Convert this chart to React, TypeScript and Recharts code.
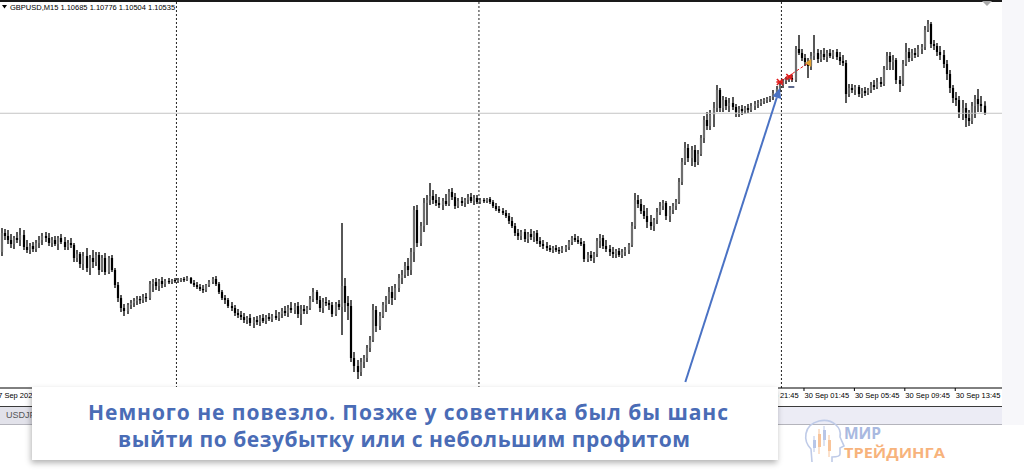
import React from "react";
import { ComposedChart, Bar, XAxis, YAxis, ReferenceLine, ReferenceDot } from "recharts";

// ---- data: [open, high, low, close] per 15-minute bar ----
const symbolTitle = "GBPUSD,M15";
const bidPrice = 1.10535;

const sep27 = [
  [1.0776,1.0824,1.0768,1.0814],[1.0814,1.0822,1.0800,1.0808],[1.0808,1.0820,1.0792,1.0800],[1.0800,1.0812,1.0784,1.0792],
  [1.0792,1.0808,1.0782,1.0804],[1.0804,1.0816,1.0794,1.0800],[1.0800,1.0824,1.0788,1.0810],[1.0810,1.0820,1.0780,1.0786],
  [1.0786,1.0800,1.0774,1.0780],[1.0780,1.0794,1.0772,1.0788],[1.0788,1.0796,1.0776,1.0782],[1.0782,1.0800,1.0776,1.0794],
  [1.0794,1.0808,1.0784,1.0800],[1.0800,1.0814,1.0790,1.0808],[1.0808,1.0816,1.0796,1.0804],[1.0804,1.0814,1.0788,1.0794],
  [1.0794,1.0806,1.0786,1.0800],[1.0800,1.0808,1.0788,1.0792],[1.0792,1.0808,1.0780,1.0804],[1.0804,1.0812,1.0792,1.0796],
  [1.0796,1.0806,1.0780,1.0786],[1.0786,1.0800,1.0780,1.0794],[1.0794,1.0804,1.0784,1.0790],[1.0790,1.0794,1.0756,1.0764],
  [1.0764,1.0780,1.0756,1.0772],[1.0772,1.0776,1.0744,1.0752],[1.0752,1.0776,1.0740,1.0768],[1.0768,1.0784,1.0736,1.0744],
  [1.0744,1.0770,1.0730,1.0764],[1.0764,1.0780,1.0744,1.0756],[1.0756,1.0776,1.0748,1.0770],[1.0770,1.0776,1.0730,1.0740],
  [1.0740,1.0770,1.0736,1.0764],[1.0764,1.0774,1.0730,1.0736],[1.0736,1.0768,1.0732,1.0764],[1.0764,1.0770,1.0736,1.0740],
  [1.0740,1.0744,1.0704,1.0710],[1.0710,1.0716,1.0676,1.0684],[1.0684,1.0690,1.0656,1.0664],[1.0664,1.0672,1.0648,1.0658],
  [1.0658,1.0674,1.0652,1.0670],[1.0670,1.0680,1.0662,1.0674],[1.0674,1.0684,1.0666,1.0678],[1.0678,1.0688,1.0670,1.0682],
  [1.0682,1.0688,1.0672,1.0680],[1.0680,1.0692,1.0674,1.0686],[1.0686,1.0694,1.0676,1.0684],[1.0684,1.0718,1.0680,1.0712],
  [1.0712,1.0722,1.0696,1.0716],[1.0716,1.0724,1.0700,1.0708],[1.0708,1.0722,1.0698,1.0718],[1.0718,1.0726,1.0704,1.0712],
  [1.0712,1.0722,1.0706,1.0718],[1.0718,1.0724,1.0712,1.0716],[1.0716,1.0722,1.0712,1.0720],[1.0720,1.0724,1.0714,1.0718],
];

const sep28 = [
  [1.0718,1.0724,1.0714,1.0720],[1.0720,1.0724,1.0716,1.0722],[1.0722,1.0726,1.0716,1.0720],[1.0720,1.0728,1.0718,1.0724],
  [1.0724,1.0726,1.0712,1.0714],[1.0714,1.0720,1.0706,1.0710],[1.0710,1.0716,1.0702,1.0706],[1.0706,1.0712,1.0698,1.0702],
  [1.0702,1.0710,1.0694,1.0700],[1.0700,1.0712,1.0696,1.0710],[1.0710,1.0720,1.0706,1.0716],[1.0716,1.0726,1.0712,1.0722],
  [1.0722,1.0728,1.0708,1.0712],[1.0712,1.0716,1.0692,1.0696],[1.0696,1.0700,1.0680,1.0684],[1.0684,1.0690,1.0672,1.0680],
  [1.0680,1.0684,1.0664,1.0668],[1.0668,1.0676,1.0658,1.0664],[1.0664,1.0670,1.0648,1.0654],[1.0654,1.0662,1.0644,1.0650],
  [1.0650,1.0658,1.0640,1.0646],[1.0646,1.0654,1.0634,1.0640],[1.0640,1.0648,1.0632,1.0644],
  [1.0644,1.0652,1.0628,1.0634],[1.0634,1.0646,1.0624,1.0640],[1.0640,1.0648,1.0630,1.0636],[1.0636,1.0650,1.0628,1.0644],
  [1.0644,1.0652,1.0634,1.0638],[1.0638,1.0650,1.0632,1.0646],[1.0646,1.0654,1.0638,1.0642],[1.0642,1.0652,1.0636,1.0648],
  [1.0648,1.0660,1.0640,1.0644],[1.0644,1.0656,1.0638,1.0652],
  [1.0652,1.0664,1.0644,1.0658],[1.0658,1.0668,1.0648,1.0654],[1.0654,1.0670,1.0646,1.0664],[1.0664,1.0676,1.0654,1.0660],
  [1.0660,1.0674,1.0652,1.0668],[1.0668,1.0676,1.0644,1.0652],[1.0652,1.0670,1.0630,1.0662],[1.0662,1.0670,1.0652,1.0658],
  [1.0658,1.0668,1.0652,1.0664],[1.0664,1.0688,1.0660,1.0682],[1.0682,1.0704,1.0676,1.0696],
  [1.0696,1.0700,1.0672,1.0680],[1.0680,1.0688,1.0656,1.0664],[1.0664,1.0684,1.0654,1.0676],[1.0676,1.0686,1.0668,1.0674],
  [1.0674,1.0680,1.0660,1.0670],[1.0670,1.0676,1.0646,1.0652],[1.0652,1.0676,1.0648,1.0672],[1.0672,1.0680,1.0660,1.0666],
  [1.0666,1.0834,1.0610,1.0708],[1.0708,1.0724,1.0656,1.0674],
  [1.0674,1.0688,1.0640,1.0668],[1.0668,1.0680,1.0556,1.0564],[1.0564,1.0576,1.0536,1.0548],[1.0548,1.0560,1.0522,1.0536],
  [1.0536,1.0564,1.0528,1.0556],[1.0556,1.0570,1.0544,1.0564],[1.0564,1.0590,1.0556,1.0584],[1.0584,1.0608,1.0576,1.0600],
  [1.0600,1.0672,1.0596,1.0660],[1.0660,1.0668,1.0616,1.0628],
  [1.0628,1.0656,1.0620,1.0648],[1.0648,1.0676,1.0644,1.0670],[1.0670,1.0688,1.0656,1.0680],[1.0680,1.0706,1.0672,1.0696],
  [1.0696,1.0708,1.0670,1.0684],[1.0684,1.0712,1.0680,1.0704],[1.0704,1.0732,1.0696,1.0724],[1.0724,1.0740,1.0712,1.0730],
  [1.0730,1.0756,1.0724,1.0748],[1.0748,1.0764,1.0728,1.0740],
  [1.0740,1.0784,1.0730,1.0776],[1.0776,1.0868,1.0756,1.0860],[1.0860,1.0870,1.0786,1.0794],[1.0794,1.0836,1.0788,1.0828],
  [1.0828,1.0884,1.0816,1.0874],[1.0874,1.0890,1.0830,1.0880],[1.0880,1.0914,1.0870,1.0888],[1.0888,1.0900,1.0872,1.0880],
  [1.0880,1.0892,1.0868,1.0874],[1.0874,1.0886,1.0864,1.0870],
  [1.0870,1.0884,1.0860,1.0878],[1.0878,1.0892,1.0868,1.0872],[1.0872,1.0902,1.0868,1.0896],[1.0896,1.0904,1.0880,1.0886],
  [1.0886,1.0894,1.0862,1.0868],[1.0868,1.0884,1.0864,1.0878],[1.0878,1.0886,1.0868,1.0874],[1.0874,1.0884,1.0866,1.0880],
  [1.0880,1.0892,1.0872,1.0886],[1.0886,1.0894,1.0874,1.0878],
  [1.0878,1.0890,1.0870,1.0884],[1.0884,1.0890,1.0872,1.0876],
];

const sep29 = [
  [1.0876,1.0884,1.0872,1.0880],[1.0880,1.0884,1.0874,1.0878],[1.0878,1.0884,1.0874,1.0882],[1.0882,1.0886,1.0872,1.0876],
  [1.0876,1.0880,1.0864,1.0868],[1.0868,1.0874,1.0858,1.0862],[1.0862,1.0868,1.0854,1.0858],[1.0858,1.0864,1.0850,1.0854],
  [1.0854,1.0860,1.0844,1.0848],[1.0848,1.0854,1.0832,1.0838],[1.0838,1.0846,1.0824,1.0828],[1.0828,1.0834,1.0808,1.0814],
  [1.0814,1.0822,1.0800,1.0808],[1.0808,1.0820,1.0800,1.0816],[1.0816,1.0822,1.0796,1.0802],[1.0802,1.0816,1.0794,1.0812],
  [1.0812,1.0822,1.0800,1.0806],[1.0806,1.0818,1.0796,1.0814],
  [1.0814,1.0820,1.0792,1.0798],[1.0798,1.0806,1.0786,1.0792],[1.0792,1.0800,1.0782,1.0788],[1.0788,1.0796,1.0778,1.0784],
  [1.0784,1.0790,1.0776,1.0780],[1.0780,1.0788,1.0774,1.0784],[1.0784,1.0790,1.0776,1.0780],[1.0780,1.0786,1.0772,1.0778],
  [1.0778,1.0788,1.0774,1.0782],[1.0782,1.0790,1.0776,1.0786],
  [1.0786,1.0800,1.0780,1.0796],[1.0796,1.0808,1.0790,1.0804],[1.0804,1.0812,1.0796,1.0800],[1.0800,1.0808,1.0792,1.0796],
  [1.0796,1.0804,1.0788,1.0792],[1.0792,1.0798,1.0756,1.0762],[1.0762,1.0776,1.0756,1.0770],[1.0770,1.0778,1.0758,1.0764],
  [1.0764,1.0776,1.0754,1.0772],[1.0772,1.0804,1.0766,1.0798],
  [1.0798,1.0812,1.0784,1.0804],[1.0804,1.0810,1.0782,1.0788],[1.0788,1.0800,1.0776,1.0782],[1.0782,1.0790,1.0768,1.0776],
  [1.0776,1.0786,1.0764,1.0772],[1.0772,1.0782,1.0764,1.0778],[1.0778,1.0784,1.0766,1.0770],[1.0770,1.0782,1.0764,1.0776],
  [1.0776,1.0786,1.0768,1.0780],[1.0780,1.0794,1.0772,1.0790],
  [1.0790,1.0836,1.0786,1.0828],[1.0828,1.0894,1.0822,1.0880],[1.0880,1.0890,1.0864,1.0872],[1.0872,1.0882,1.0852,1.0858],
  [1.0858,1.0870,1.0842,1.0848],[1.0848,1.0864,1.0824,1.0836],[1.0836,1.0850,1.0820,1.0828],[1.0828,1.0844,1.0818,1.0840],
  [1.0840,1.0864,1.0832,1.0856],[1.0856,1.0876,1.0850,1.0868],
  [1.0868,1.0880,1.0860,1.0874],[1.0874,1.0878,1.0840,1.0848],[1.0848,1.0868,1.0836,1.0860],[1.0860,1.0874,1.0852,1.0868],
  [1.0868,1.0882,1.0860,1.0876],[1.0876,1.0924,1.0872,1.0916],[1.0916,1.0964,1.0910,1.0956],[1.0956,1.0996,1.0950,1.0984],
  [1.0984,1.0992,1.0956,1.0964],[1.0964,1.0988,1.0948,1.0980],
  [1.0980,1.0990,1.0946,1.0956],[1.0956,1.0980,1.0950,1.0972],[1.0972,1.1010,1.0968,1.1004],[1.1004,1.1048,1.0994,1.1040],
  [1.1040,1.1056,1.1020,1.1028],[1.1028,1.1060,1.1020,1.1050],[1.1050,1.1076,1.1026,1.1064],[1.1064,1.1110,1.1056,1.1100],
  [1.1100,1.1104,1.1056,1.1064],[1.1064,1.1088,1.1056,1.1080],
  [1.1080,1.1086,1.1060,1.1068],[1.1068,1.1084,1.1056,1.1074],[1.1074,1.1086,1.1060,1.1066],[1.1066,1.1072,1.1046,1.1056],
  [1.1056,1.1068,1.1046,1.1062],[1.1062,1.1070,1.1050,1.1058],[1.1058,1.1068,1.1052,1.1064],[1.1064,1.1072,1.1054,1.1060],
  [1.1060,1.1074,1.1056,1.1068],[1.1068,1.1078,1.1060,1.1072],
  [1.1072,1.1080,1.1064,1.1074],[1.1074,1.1082,1.1068,1.1078],[1.1078,1.1084,1.1072,1.1080],[1.1080,1.1086,1.1074,1.1082],
  [1.1082,1.1088,1.1076,1.1086],[1.1086,1.1100,1.1080,1.1094],[1.1094,1.1108,1.1088,1.1102],[1.1102,1.1116,1.1096,1.1110],
];

const sep30 = [
  [1.1110,1.1122,1.1104,1.1118],[1.1118,1.1126,1.1112,1.1122],
  [1.1122,1.1128,1.1116,1.1124],[1.1124,1.1130,1.1116,1.1120],[1.1120,1.1188,1.1116,1.1182],[1.1182,1.1210,1.1170,1.1174],
  [1.1174,1.1182,1.1158,1.1164],[1.1164,1.1172,1.1148,1.1156],[1.1156,1.1164,1.1124,1.1148],[1.1148,1.1176,1.1140,1.1168],
  [1.1168,1.1210,1.1160,1.1174],[1.1174,1.1182,1.1154,1.1162],
  [1.1162,1.1180,1.1156,1.1172],[1.1172,1.1184,1.1160,1.1166],[1.1166,1.1180,1.1156,1.1174],[1.1174,1.1182,1.1164,1.1168],
  [1.1168,1.1180,1.1162,1.1176],[1.1176,1.1182,1.1160,1.1166],[1.1166,1.1176,1.1150,1.1158],[1.1158,1.1170,1.1148,1.1154],
  [1.1154,1.1160,1.1074,1.1092],[1.1092,1.1112,1.1086,1.1104],
  [1.1104,1.1112,1.1094,1.1100],[1.1100,1.1110,1.1090,1.1106],[1.1106,1.1110,1.1086,1.1092],[1.1092,1.1104,1.1084,1.1098],
  [1.1098,1.1106,1.1088,1.1094],[1.1094,1.1104,1.1090,1.1100],[1.1100,1.1116,1.1094,1.1110],[1.1110,1.1120,1.1100,1.1106],
  [1.1106,1.1124,1.1102,1.1116],[1.1116,1.1126,1.1106,1.1112],
  [1.1112,1.1148,1.1108,1.1142],[1.1142,1.1176,1.1140,1.1168],[1.1168,1.1176,1.1140,1.1156],[1.1156,1.1170,1.1140,1.1160],
  [1.1160,1.1164,1.1112,1.1120],[1.1120,1.1128,1.1096,1.1112],[1.1112,1.1160,1.1108,1.1152],[1.1152,1.1194,1.1148,1.1176],
  [1.1176,1.1184,1.1156,1.1164],[1.1164,1.1182,1.1158,1.1174],
  [1.1174,1.1184,1.1164,1.1170],[1.1170,1.1190,1.1166,1.1182],[1.1182,1.1192,1.1172,1.1186],[1.1186,1.1228,1.1180,1.1220],
  [1.1220,1.1240,1.1216,1.1232],[1.1232,1.1236,1.1184,1.1192],[1.1192,1.1200,1.1180,1.1188],[1.1188,1.1194,1.1168,1.1176],
  [1.1176,1.1188,1.1160,1.1170],[1.1170,1.1180,1.1144,1.1152],
  [1.1152,1.1160,1.1120,1.1132],[1.1132,1.1140,1.1094,1.1104],[1.1104,1.1110,1.1074,1.1084],[1.1084,1.1096,1.1068,1.1080],
  [1.1080,1.1088,1.1044,1.1056],[1.1056,1.1080,1.1040,1.1064],[1.1064,1.1074,1.1026,1.1044],[1.1044,1.1060,1.1028,1.1038],
  [1.1038,1.1076,1.1032,1.1068],[1.1068,1.1090,1.1044,1.1082],
  [1.1082,1.1102,1.1056,1.1072],[1.1072,1.1088,1.1056,1.1068],[1.10685,1.10776,1.10504,1.10535],
];

const emptyBarsRight = 5;
const priceDomain = [1.0504, 1.1276];
const dayStartIndexes = [56, 152, 248];
const tickIndexes = [0, 31, 47, 63, 79, 95, 111, 127, 143, 159, 175, 191, 207, 223, 239, 255, 271, 287, 303];
const tickLabels = [
  "27 Sep 2022 10:00", "27 Sep 17:45", "27 Sep 21:45", "28 Sep 01:45", "28 Sep 05:45", "28 Sep 09:45",
  "28 Sep 13:45", "28 Sep 17:45", "28 Sep 21:45", "29 Sep 01:45", "29 Sep 05:45", "29 Sep 09:45",
  "29 Sep 13:45", "29 Sep 17:45", "29 Sep 21:45", "30 Sep 01:45", "30 Sep 05:45", "30 Sep 09:45", "30 Sep 13:45",
];
const tradeEntries = [
  { bar: 247, price: 1.1116 },
  { bar: 250, price: 1.1126 },
];
const tradeExit = { bar: 256, price: 1.1154 };
const stopMark = { bar: 250, price: 1.1106 };
const arrowFrom = { bar: 217, price: 1.0516 };
const arrowTo = { bar: 247, price: 1.1104 };
const captionLines = [
  "Немного не повезло. Позже у советника был бы шанс",
  "выйти по безубытку или с небольшим профитом",
];

const candles = [...sep27, ...sep28, ...sep29, ...sep30];
const lastBar = sep30[sep30.length - 1];
const rows: any[] = candles.map((k, i) => ({ i, o: k[0], hi: k[1], lo: k[2], c: k[3], range: [k[2], k[1]] }));
for (let j = 0; j < emptyBarsRight; j++) rows.push({ i: candles.length + j, range: null });

const CHART_W = 1002;
const CHART_H = 406;
const bandHalf = CHART_W / rows.length / 2;
const FONT = "'Liberation Sans', Arial, sans-serif";

function Candle(props: any) {
  const { x, y, width, height, payload } = props;
  if (!payload || payload.o == null || y == null) return <g />;
  const top = Math.min(y, y + height);
  const h = Math.abs(height);
  const span = payload.hi - payload.lo;
  const toY = (p: number) => top + (span > 0 ? ((payload.hi - p) / span) * h : 0);
  const cx = Math.round(x + width / 2);
  const yo = toY(payload.o);
  const yc = toY(payload.c);
  const bull = payload.c >= payload.o;
  const bTop = Math.min(yo, yc);
  const bH = Math.max(1.2, Math.abs(yc - yo));
  return (
    <g>
      <rect x={cx - 0.7} y={top} width={1.4} height={Math.max(1, h)} fill="#111" />
      <rect x={cx - 1.1} y={bTop} width={2.2} height={bH} fill={bull ? "#6e6e6e" : "#000"} />
    </g>
  );
}

function TimeTick(p: any) {
  const k = tickIndexes.indexOf(Number(p.payload && p.payload.value));
  if (k < 0) return <g />;
  const bx = p.x - bandHalf;
  const first = k === 0;
  return (
    <g>
      {!first && <line x1={bx + 0.5} x2={bx + 0.5} y1={p.y} y2={p.y + 3} stroke="#000" strokeWidth={1} />}
      <text x={first ? bx - 6 : bx + 1} y={p.y + 10} fontSize={7.5} fill="#000" fontFamily={FONT}>
        {tickLabels[k]}
      </text>
    </g>
  );
}

function ArrowShape(p: any) {
  const { x1, y1, x2, y2 } = p;
  if (x1 == null) return <g />;
  const ang = Math.atan2(y2 - y1, x2 - x1);
  const L = 10, W = 4.5;
  const bx = x2 - L * Math.cos(ang);
  const by = y2 - L * Math.sin(ang);
  const pts = `${x2},${y2} ${bx + W * Math.sin(ang)},${by - W * Math.cos(ang)} ${bx - W * Math.sin(ang)},${by + W * Math.cos(ang)}`;
  return (
    <g>
      <line x1={x1} y1={y1} x2={bx} y2={by} stroke="#4a72c4" strokeWidth={2} />
      <polygon points={pts} fill="#4a72c4" />
    </g>
  );
}

function StarShape(p: any) {
  const { cx, cy } = p;
  if (cx == null) return <g />;
  return (
    <g stroke="#e01818" strokeWidth={1.6}>
      <line x1={cx - 3} y1={cy - 3} x2={cx + 3} y2={cy + 3} />
      <line x1={cx - 3} y1={cy + 3} x2={cx + 3} y2={cy - 3} />
      <line x1={cx - 3.5} y1={cy} x2={cx + 3.5} y2={cy} />
    </g>
  );
}

function ExitShape(p: any) {
  const { cx, cy } = p;
  if (cx == null) return <g />;
  return <polygon points={`${cx - 3},${cy} ${cx + 3},${cy - 4} ${cx + 3},${cy + 4}`} fill="#e0a030" />;
}

function DashShape(p: any) {
  const { cx, cy } = p;
  if (cx == null) return <g />;
  return <line x1={cx - 1} x2={cx + 5} y1={cy} y2={cy} stroke="#2a3a6a" strokeWidth={1.5} />;
}

export default function App() {
  const header = `${symbolTitle}  ${lastBar.map((v) => v.toFixed(5)).join(" ")}`;
  return (
    <div style={{ position: "absolute", left: 0, top: 0, width: 1024, height: 473, background: "#fff", overflow: "hidden" }}>
      <div style={{ position: "absolute", left: 1002, top: 0, width: 22, height: 425, background: "#f7f7fa" }} />
      <div style={{ position: "absolute", left: 0, top: 0 }}>
        <ComposedChart width={CHART_W} height={CHART_H} data={rows} margin={{ top: 2, right: 0, bottom: 0, left: 0 }} barCategoryGap={0}>
          <XAxis
            dataKey="i"
            type="category"
            ticks={tickIndexes}
            interval={0}
            tick={TimeTick}
            tickLine={false}
            tickSize={0}
            tickMargin={0}
            axisLine={{ stroke: "#000", strokeWidth: 1 }}
            height={18}
          />
          <YAxis hide domain={priceDomain} allowDataOverflow type="number" />
          {dayStartIndexes.map((d) => (
            <ReferenceLine key={d} x={d} position="start" stroke="#222" strokeDasharray="2 2" strokeWidth={1} />
          ))}
          <ReferenceLine y={bidPrice} stroke="#c4c4c4" strokeWidth={1} />
          <Bar dataKey="range" isAnimationActive={false} shape={Candle} />
          <ReferenceLine
            segment={[{ x: tradeEntries[0].bar, y: tradeEntries[0].price }, { x: tradeExit.bar, y: tradeExit.price }]}
            stroke="#e01818"
            strokeDasharray="3 2"
            strokeWidth={1}
          />
          {tradeEntries.map((t) => (
            <ReferenceDot key={t.bar} x={t.bar} y={t.price} shape={StarShape} />
          ))}
          <ReferenceDot x={tradeExit.bar} y={tradeExit.price} shape={ExitShape} />
          <ReferenceDot x={stopMark.bar} y={stopMark.price} shape={DashShape} />
          <ReferenceLine
            segment={[{ x: arrowFrom.bar, y: arrowFrom.price }, { x: arrowTo.bar, y: arrowTo.price }]}
            shape={ArrowShape}
          />
        </ComposedChart>
      </div>

      <svg width={1024} height={473} style={{ position: "absolute", left: 0, top: 0, pointerEvents: "none" }}>
        <rect x={0} y={0} width={1002} height={2} fill="#1a1a1a" />
        <polygon points="982,1 992,1 987,6" fill="#a8a8a8" />
        <polygon points="2,5 7,5 4.5,8.5" fill="#000" />
        <text x={10} y={10} fontSize={7.5} fontFamily={FONT} fill="#000">{header}</text>
        <rect x={0} y={406} width={1002} height={19} fill="#ececf5" />
        <rect x={0} y={406} width={1002} height={1} fill="#3a3a3a" />
        <rect x={0} y={424} width={1002} height={1} fill="#b4b4bc" />
        <rect x={0} y={407} width={34} height={17} fill="#e2e2ea" />
        <text x={6} y={418} fontSize={9} fontFamily={FONT} fill="#555">USDJPY,M15</text>
      </svg>

      <div
        style={{
          position: "absolute", left: 32, top: 387, width: 746, height: 73, background: "#fff",
          boxShadow: "-1px 3px 6px rgba(0,0,0,0.30)",
        }}
      >
        <svg width={746} height={73} style={{ position: "absolute", left: 0, top: 0 }}>
          <text x={376} y={33} textAnchor="middle" fontSize={21} fontWeight={700} fontFamily="'Open Sans', sans-serif" fill="#4a6cb6" textLength={640} lengthAdjust="spacing">
            {captionLines[0]}
          </text>
          <text x={372} y={60} textAnchor="middle" fontSize={21} fontWeight={700} fontFamily="'Open Sans', sans-serif" fill="#4a6cb6" textLength={572} lengthAdjust="spacing">
            {captionLines[1]}
          </text>
        </svg>
      </div>

      <svg width={1024} height={473} style={{ position: "absolute", left: 0, top: 0, pointerEvents: "none" }}>
        <path
          d="M 812 462 L 811 449 C 803 441, 803 425, 819 421 C 833 418, 842 428, 840 437 L 844 446 L 840 448 L 840 454 C 840 457, 835 457, 832 457 L 832 462"
          fill="none" stroke="#bfcbe8" strokeWidth={1.6}
        />
        <line x1={814} x2={814} y1={436} y2={452} stroke="#b8c6e8" />
        <rect x={813} y={440} width={3} height={8} fill="#b8c6e8" />
        <line x1={819} x2={819} y1={429} y2={454} stroke="#f8c49a" />
        <rect x={818} y={434} width={3} height={13} fill="#f8c49a" />
        <line x1={824} x2={824} y1={426} y2={446} stroke="#b8c6e8" />
        <rect x={823} y={430} width={3} height={10} fill="#b8c6e8" />
        <line x1={829} x2={829} y1={435} y2={457} stroke="#f8c49a" />
        <rect x={828} y={440} width={3} height={11} fill="#f8c49a" />
        <text x={844} y={439} fontSize={15.5} fontWeight={700} fontFamily="'Open Sans', sans-serif" fill="#a9b9e0">МИР</text>
        <text x={844} y={458} fontSize={15} fontWeight={700} fontFamily="'Open Sans', sans-serif" fill="#f7b37c" textLength={101} lengthAdjust="spacingAndGlyphs">ТРЕЙДИНГА</text>
      </svg>
    </div>
  );
}
